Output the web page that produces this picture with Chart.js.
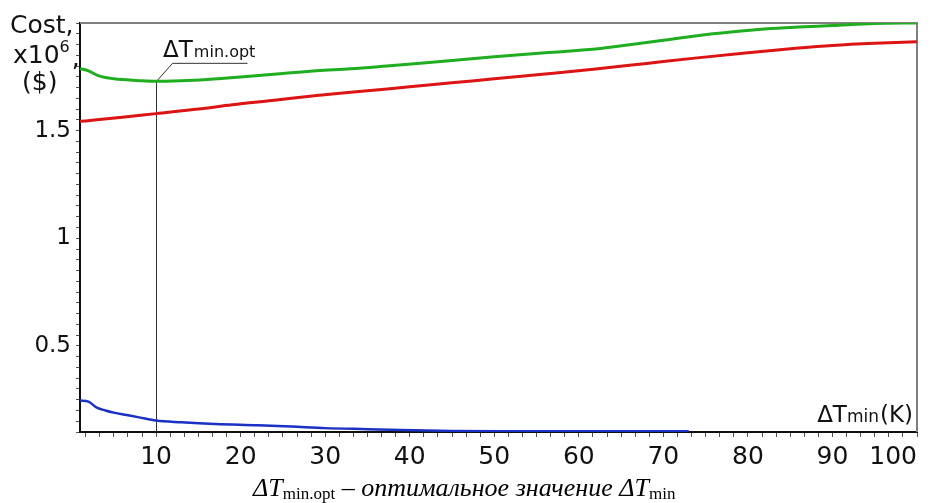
<!DOCTYPE html>
<html>
<head>
<meta charset="utf-8">
<script src="https://cdn.jsdelivr.net/npm/chart.js@4.4.1/dist/chart.umd.min.js"></script>
<style>
  html, body { margin: 0; padding: 0; background: #fff; }
  #wrap { position: relative; width: 933px; height: 503px; }
  #caption {
    position: absolute; left: 253px; top: 475px;
    font-family: "Liberation Serif", "Times New Roman", serif;
    font-size: 26px; line-height: 1; white-space: nowrap; color: #000;
  }
  #caption .sub { font-style: normal; font-size: 17px; position: relative; top: 3px; }
</style>
</head>
<body>
<div id="wrap">
  <canvas id="costChart" width="933" height="503"></canvas>
  <div id="caption"><i>ΔT</i><span class="sub">min.opt</span> – <i>оптимальное значение ΔT</i><span class="sub">min</span></div>
</div>
<script>
// Total cost (green)
const TOTAL_X = [1, 2, 3, 4, 5, 6, 8, 10, 13, 16, 20, 25, 29, 33, 38, 44, 50, 56, 62, 66, 70, 74, 78, 82, 86, 90, 95, 100];
const TOTAL_Y = [1.788, 1.778, 1.758, 1.747, 1.741, 1.737, 1.732, 1.729, 1.732, 1.738, 1.749, 1.765, 1.778, 1.787, 1.803, 1.822, 1.843, 1.862, 1.879, 1.899, 1.920, 1.941, 1.958, 1.972, 1.981, 1.988, 1.998, 2.0];

// Capital cost (red)
const CAPITAL_X = [1, 3, 6, 10, 15, 19, 24, 29, 35, 40, 45, 50, 56, 62, 68, 74, 80, 86, 90, 95, 100];
const CAPITAL_Y = [1.543, 1.550, 1.562, 1.579, 1.600, 1.620, 1.641, 1.663, 1.685, 1.704, 1.722, 1.741, 1.763, 1.786, 1.812, 1.838, 1.862, 1.884, 1.896, 1.906, 1.913];

// Operating cost (blue)
const ENERGY_X = [1, 2, 3, 4, 5, 6.5, 8, 10, 13, 17, 22, 26, 30, 35, 39, 45, 51, 60, 73];
const ENERGY_Y = [0.246, 0.241, 0.213, 0.200, 0.190, 0.179, 0.168, 0.153, 0.145, 0.137, 0.131, 0.125, 0.118, 0.113, 0.109, 0.105, 0.103, 0.103, 0.103];

const X_TICK_LABELS = [10, 20, 30, 40, 50, 60, 70, 80, 90, 100];
const Y_TICK_LABELS = [0.5, 1, 1.5];

// optimum marker
const OPT_X = 10;
const OPT_Y = 1.729;

const toPoints = (xs, ys) => xs.map((x, i) => ({ x: x, y: ys[i] }));

// minor ticks: x every 5/3, y every 0.05
const xTickValues = [];
for (let i = 1; i <= 60; i++) xTickValues.push(i * 5 / 3);
const yTickValues = [];
for (let i = 2; i <= 40; i++) yTickValues.push(Math.round(i * 5) / 100);

const SANS = '"DejaVu Sans", Verdana, sans-serif';

const decorPlugin = {
  id: 'decor',
  beforeDatasetsDraw(chart) {
    const { ctx, chartArea: a, scales } = chart;
    ctx.save();
    // top & right frame
    ctx.strokeStyle = '#808080';
    ctx.lineWidth = 2;
    ctx.beginPath();
    ctx.moveTo(a.left, a.top);
    ctx.lineTo(a.right, a.top);
    ctx.lineTo(a.right, a.bottom);
    ctx.stroke();

    // optimum line + leader
    const px = Math.round(scales.x.getPixelForValue(OPT_X)) + 0.5;
    const py = scales.y.getPixelForValue(OPT_Y);
    ctx.strokeStyle = '#333';
    ctx.lineWidth = 1;
    ctx.beginPath();
    ctx.moveTo(px, a.bottom);
    ctx.lineTo(px, py);
    ctx.lineTo(px + 16, py - 18);
    ctx.lineTo(px + 91, py - 18);
    ctx.stroke();
    ctx.restore();
  },
  afterDraw(chart) {
    const { ctx, chartArea: a, scales } = chart;
    ctx.save();
    ctx.fillStyle = '#111';
    ctx.textBaseline = 'alphabetic';
    ctx.textAlign = 'left';

    // y axis title
    ctx.font = '25px ' + SANS;
    ctx.fillText('Cost,', 10, 33);
    ctx.fillText('x10', 13, 63);
    let w = ctx.measureText('x10').width;
    ctx.font = '16px ' + SANS;
    ctx.fillText('6', 13 + w, 52);
    let w6 = ctx.measureText('6').width;
    ctx.font = '25px ' + SANS;
    ctx.fillText(',', 15 + w + w6, 66);
    ctx.fillText('($)', 22, 90);

    // ΔTmin.opt label
    const px = scales.x.getPixelForValue(OPT_X);
    ctx.font = '23px ' + SANS;
    ctx.fillText('ΔT', px + 7, 57);
    w = ctx.measureText('ΔT').width;
    ctx.font = '16px ' + SANS;
    ctx.fillText('min.opt', px + 8 + w, 57);

    // x axis title inside plot
    ctx.font = '23px ' + SANS;
    const wDT = ctx.measureText('ΔT').width;
    const wK = ctx.measureText('(K)').width;
    ctx.font = '17px ' + SANS;
    const wMin = ctx.measureText('min').width;
    let sx = a.right - 4 - wDT - wMin - wK - 1;
    ctx.font = '23px ' + SANS;
    ctx.fillText('ΔT', sx, 422);
    ctx.font = '17px ' + SANS;
    ctx.fillText('min', sx + wDT, 422);
    ctx.font = '23px ' + SANS;
    ctx.fillText('(K)', sx + wDT + wMin + 1, 422);
    ctx.restore();
  }
};

const lineStyle = (color, width) => ({
  borderColor: color,
  borderWidth: width,
  pointRadius: 0,
  fill: false,
  cubicInterpolationMode: 'monotone'
});

new Chart(document.getElementById('costChart').getContext('2d'), {
  type: 'line',
  data: {
    datasets: [
      Object.assign({ label: 'Total', data: toPoints(TOTAL_X, TOTAL_Y) }, lineStyle('#1fae1f', 3)),
      Object.assign({ label: 'Capital', data: toPoints(CAPITAL_X, CAPITAL_Y) }, lineStyle('#dc1414', 3)),
      Object.assign({ label: 'Energy', data: toPoints(ENERGY_X, ENERGY_Y) }, lineStyle('#1b30c4', 2.5))
    ]
  },
  options: {
    responsive: false,
    animation: false,
    layout: { padding: { top: 23, right: 16, left: 0, bottom: 0 } },
    plugins: { legend: { display: false }, tooltip: { enabled: false } },
    scales: {
      x: {
        type: 'linear',
        min: 1,
        max: 100,
        afterBuildTicks: s => { s.ticks = xTickValues.map(v => ({ value: v })); },
        afterFit: s => { s.height = 71; },
        grid: { drawOnChartArea: false, drawTicks: true, tickLength: 5, tickColor: '#555', tickWidth: 1 },
        border: { display: true, color: '#111', width: 2 },
        ticks: {
          autoSkip: false,
          maxRotation: 0,
          padding: 5,
          align: 'inner',
          color: '#111',
          font: { family: SANS, size: 25 },
          callback: v => {
            const r = Math.round(v * 1000) / 1000;
            return X_TICK_LABELS.includes(r) ? String(r) : '';
          }
        }
      },
      y: {
        type: 'linear',
        min: 0.1,
        max: 2.0,
        afterBuildTicks: s => { s.ticks = yTickValues.map(v => ({ value: v })); },
        afterFit: s => { s.width = 80; },
        grid: { drawOnChartArea: false, drawTicks: true, tickLength: 4, tickColor: '#555', tickWidth: 1 },
        border: { display: true, color: '#111', width: 2 },
        ticks: {
          autoSkip: false,
          padding: 5,
          color: '#111',
          font: { family: SANS, size: 23 },
          callback: v => (Y_TICK_LABELS.includes(v) ? String(v) : '')
        }
      }
    }
  },
  plugins: [decorPlugin]
});
</script>
</body>
</html>
